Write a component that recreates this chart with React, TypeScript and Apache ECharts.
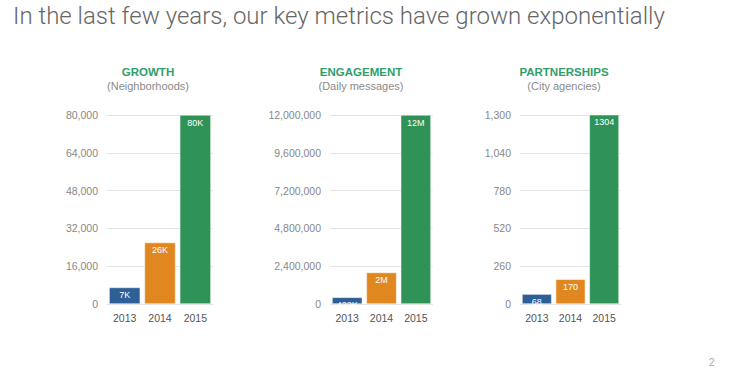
import React, { useEffect, useRef } from "react";
import * as echarts from "echarts";

const years = ["2013", "2014", "2015"];
const growthValues = [7000, 26000, 80000];
const growthLabels = ["7K", "26K", "80K"];
const engagementValues = [422000, 2000000, 12000000];
const engagementLabels = ["422K", "2M", "12M"];
const partnershipValues = [68, 170, 1304];
const partnershipLabels = ["68", "170", "1304"];
const barColors = ["#2f5f97", "#e1871f", "#2f9358"];
const panelTitles = ["GROWTH", "ENGAGEMENT", "PARTNERSHIPS"];
const panelSubtitles = ["(Neighborhoods)", "(Daily messages)", "(City agencies)"];
const axisMax = [80000, 12000000, 1300];
const axisInterval = [16000, 2400000, 260];

const grids = [
  { left: 107, top: 115, width: 106, height: 189 },
  { left: 330, top: 115, width: 103, height: 189 },
  { left: 520, top: 115, width: 101, height: 189 },
];
const titleCenters = [143, 356, 559];

export default function App() {
  const ref = useRef<HTMLDivElement>(null);
  useEffect(() => {
    if (!ref.current) return;
    const chart = echarts.init(ref.current, undefined, { renderer: "svg" });
    const values = [growthValues, engagementValues, partnershipValues];
    const labels = [growthLabels, engagementLabels, partnershipLabels];
    const font = "'Liberation Sans', Arial, sans-serif";
    chart.setOption({
      animation: false,
      backgroundColor: "#ffffff",
      title: [
        {
          text: "In the last few years, our key metrics have grown exponentially",
          left: 8,
          top: -1,
          textStyle: { fontFamily: "Roboto", fontWeight: 300, fontSize: 24, color: "#666666" },
        },
        ...panelTitles.map((t, i) => ({
          text: t,
          subtext: panelSubtitles[i],
          left: titleCenters[i],
          top: 61,
          textAlign: "center",
          itemGap: 2,
          textStyle: { fontFamily: font, fontWeight: "bold", fontSize: 11.5, color: "#2f9e6c" },
          subtextStyle: { fontFamily: font, fontSize: 11, color: "#8a8a8a" },
        })),
      ],
      graphic: [
        {
          type: "text",
          left: 709,
          top: 357,
          style: { text: "2", fill: "#aaaaaa", font: `10px ${font}` },
        },
      ],
      grid: grids,
      xAxis: grids.map((_, i) => ({
        type: "category",
        gridIndex: i,
        data: years,
        axisLine: { show: false },
        axisTick: { show: false },
        axisLabel: { color: "#555555", fontSize: 10.5, fontFamily: font, margin: 8 },
      })),
      yAxis: grids.map((_, i) => ({
        type: "value",
        gridIndex: i,
        min: 0,
        max: axisMax[i],
        interval: axisInterval[i],
        axisLine: { show: false },
        axisTick: { show: false },
        splitLine: { lineStyle: { color: "#e3e3e3", width: 1 } },
        axisLabel: {
          color: "#888888",
          fontSize: 10.5,
          fontFamily: font,
          margin: 9,
          formatter: (v: number) => v.toLocaleString("en-US"),
        },
      })),
      series: values.map((vals, i) => ({
        type: "bar",
        xAxisIndex: i,
        yAxisIndex: i,
        barCategoryGap: "12%",
        data: vals.map((v, j) => ({
          value: v,
          itemStyle: { color: barColors[j], borderColor: "#ffffff", borderWidth: 0.5 },
        })),
        label: {
          show: true,
          position: "insideTop",
          distance: 3,
          color: "#ffffff",
          fontSize: 9,
          fontFamily: font,
          formatter: (p: any) => labels[i][p.dataIndex],
        },
      })),
    });
    return () => chart.dispose();
  }, []);
  return (
    <div
      ref={ref}
      style={{ position: "fixed", left: 0, top: 0, width: 733, height: 373 }}
    />
  );
}
